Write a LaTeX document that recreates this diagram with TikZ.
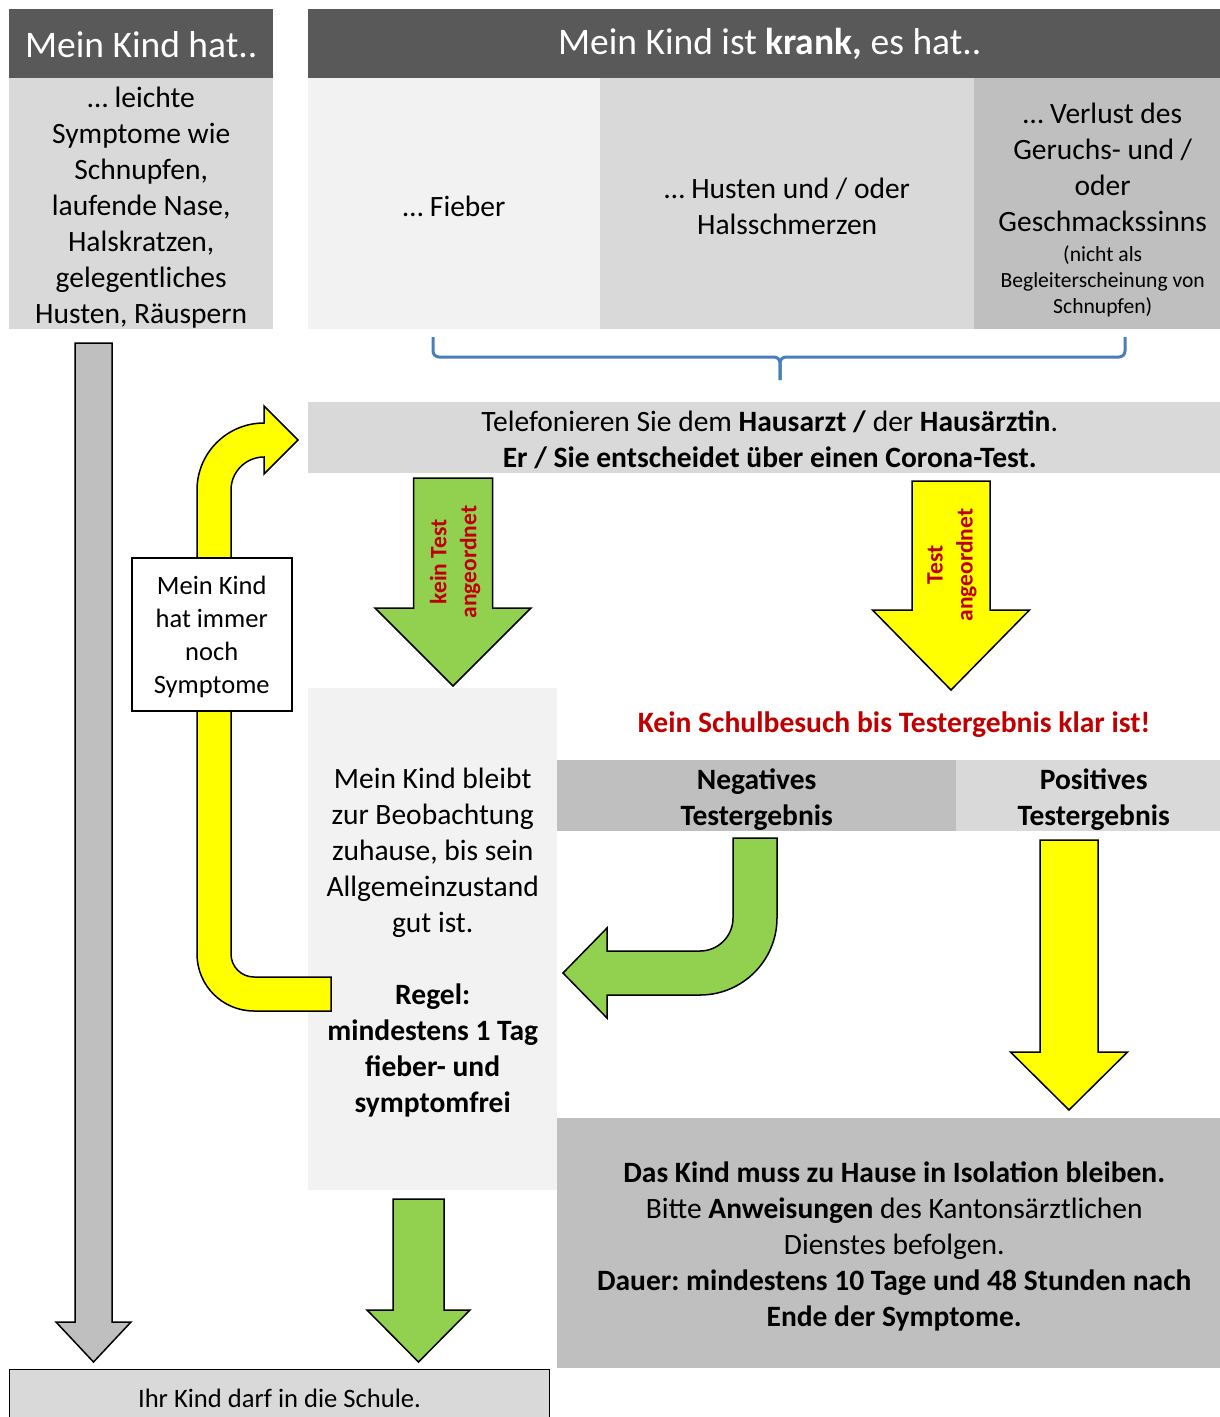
\documentclass[tikz,border=0pt]{standalone}
\usepackage{fontspec}
\setmainfont{Carlito}
\frenchspacing
\usetikzlibrary{positioning}

\definecolor{hdrgrey}{HTML}{595959}
\definecolor{cellA}{HTML}{F2F2F2}
\definecolor{cellB}{HTML}{D9D9D9}
\definecolor{cellC}{HTML}{BFBFBF}
\definecolor{arrgreen}{HTML}{92D050}
\definecolor{arryellow}{HTML}{FFFF00}
\definecolor{warnred}{HTML}{C00000}
\definecolor{braceblue}{HTML}{4A7EBB}

% straight block arrow pointing down: x, top, head base, tip, half shaft, half head, colour
\newcommand{\blockdown}[7]{%
  \filldraw[fill=#7, outl] (#1-#5,#2) -- (#1+#5,#2) -- (#1+#5,#3) -- (#1+#6,#3)
    -- (#1,#4) -- (#1-#6,#3) -- (#1-#5,#3) -- cycle;}
% taller first line, lowers the text a little
\newcommand{\topstrut}[1][28pt]{\rule{0pt}{#1}}

\begin{document}
\begin{tikzpicture}[x=1pt, y=-1pt,
    cell/.style={anchor=north west, inner sep=0pt, align=center,
      font=\fontsize{29.5}{36}\selectfont},
    hdr/.style={cell, fill=hdrgrey, text=white, font=\fontsize{37.5}{44}\selectfont},
    boldcell/.style={cell, font=\bfseries\fontsize{29.5}{36}\selectfont},
    arrlabel/.style={rotate=90, align=center, text=warnred, inner sep=0pt,
      font=\bfseries\fontsize{23.5}{30}\selectfont},
    outl/.style={draw=black, line width=1.5pt},
    bracepen/.style={draw=braceblue, line width=3pt, rounded corners=6pt}]
    \path[use as bounding box, clip] (0,0) rectangle (1220,1417);

    % headers
    \node[hdr, minimum width=264, minimum height=69] (hdrhat) at (9,9) {\topstrut[27pt]Mein Kind hat..};
    \node[hdr, minimum width=923, minimum height=69] (hdrkrank) at (308,9)
        {\topstrut[27pt]Mein Kind ist \textbf{krank,} es hat..};

    % symptoms
    \node[cell, fill=cellB, minimum width=264, minimum height=251] (leicht) at (9,78)
        {\topstrut… leichte\\Symptome wie\\Schnupfen,\\laufende Nase,\\Halskratzen,\\gelegentliches\\Husten, Räuspern};
    \node[cell, fill=cellA, minimum width=292, minimum height=251] (fieber) at (308,78) {\topstrut[26pt]… Fieber};
    \node[cell, fill=cellB, minimum width=374, minimum height=251] (husten) at (600,78)
        {\topstrut[26pt]… Husten und / oder\\Halsschmerzen};
    \node[cell, fill=cellC, minimum width=257, minimum height=251] (verlust) at (974,78)
        {\topstrut[33pt]… Verlust des\\Geruchs- und /\\oder\\Geschmackssinns\\[-6pt]
         {\fontsize{21.6}{26}\selectfont (nicht als}\\[-9.5pt]
         {\fontsize{21.6}{26}\selectfont Begleiterscheinung von}\\[-10.5pt]
         {\fontsize{21.6}{26}\selectfont Schnupfen)}};

    % brace
    \draw[bracepen] (433,337) |- (780,357) -- (780,380);
    \draw[bracepen] (780,380) -- (780,357) -| (1125,337);

    \node[cell, fill=cellB, minimum width=923, minimum height=71] (telefon) at (308,402)
        {\topstrut[24pt]Telefonieren Sie dem \textbf{Hausarzt /} der \textbf{Hausärztin}.\\
         \textbf{Er / Sie entscheidet über einen Corona-Test.}};

    % left column
    \blockdown{93.5}{343}{1322}{1362}{18.5}{37.5}{cellC}

    \node[cell, fill=cellA, minimum width=249, minimum height=502] (bleibt) at (308,688)
        {\topstrut Mein Kind bleibt\\zur Beobachtung\\zuhause, bis sein\\Allgemeinzustand\\gut ist.\\[36pt]
         \textbf{Regel:}\\\textbf{mindestens 1 Tag}\\\textbf{fieber- und}\\\textbf{symptomfrei}};

    % loop back to the doctor
    \filldraw[fill=arryellow, outl] (331,977) -- (331,1011) -- (254,1011)
        .. controls (222.5,1011) and (197,985.5) .. (197,954) -- (197,490)
        .. controls (197,453) and (227,423) .. (264,423) -- (264,406) -- (298,440)
        -- (264,474) -- (264,457) .. controls (245.8,457) and (231,471.8) .. (231,490)
        -- (231,954) .. controls (231,966.7) and (241.3,977) .. (254,977) -- cycle;
    \node[cell, fill=white, draw=black, line width=1.5pt, minimum width=160, minimum height=153,
        font=\fontsize{26.5}{33}\selectfont] (immer) at (131,557)
        {\topstrut[24pt]Mein Kind\\hat immer\\noch\\Symptome};

    % doctor decides
    \blockdown{453}{478}{608}{686}{39.5}{78}{arrgreen}
    \node[arrlabel] (keintest) at (455,562) {kein Test\\angeordnet};
    \blockdown{951}{481}{610}{690}{39}{78.5}{arryellow}
    \node[arrlabel] (test) at (952,565) {Test\\angeordnet};

    \node[text=warnred, inner sep=0pt, font=\bfseries\fontsize{29.6}{36}\selectfont] (klar) at (894,725)
        {Kein Schulbesuch bis Testergebnis klar ist!};
    \node[boldcell, fill=cellC, minimum width=399, minimum height=71] (negativ) at (557,760)
        {\topstrut Negatives\\Testergebnis};
    \node[boldcell, fill=cellB, minimum width=275, minimum height=71] (positiv) at (956,760)
        {\topstrut Positives\\Testergebnis};

    % results
    \filldraw[fill=arrgreen, outl] (733,838) -- (777,838) -- (777,918)
        .. controls (777,960.5) and (742.5,995) .. (700,995) -- (607,995) -- (607,1018)
        -- (563,973) -- (607,928) -- (607,951) -- (700,951)
        .. controls (718.2,951) and (733,936.2) .. (733,918) -- cycle;
    \blockdown{1069}{840}{1052}{1110}{29}{58.5}{arryellow}

    \node[cell, fill=cellC, minimum width=674, minimum height=250] (isolation) at (557,1118)
        {\topstrut\textbf{Das Kind muss zu Hause in Isolation bleiben.}\\
         Bitte \textbf{Anweisungen} des Kantonsärztlichen\\Dienstes befolgen.\\
         \textbf{Dauer: mindestens 10 Tage und 48 Stunden nach}\\\textbf{Ende der Symptome.}};

    \blockdown{418.5}{1199}{1310}{1362}{25.5}{51.5}{arrgreen}

    \node[cell, fill=cellB, draw=black, line width=1pt, minimum width=540, minimum height=58,
        font=\fontsize{26.6}{30}\selectfont] (schule) at (9,1369) {Ihr Kind darf in die Schule.};
\end{tikzpicture}
\end{document}
